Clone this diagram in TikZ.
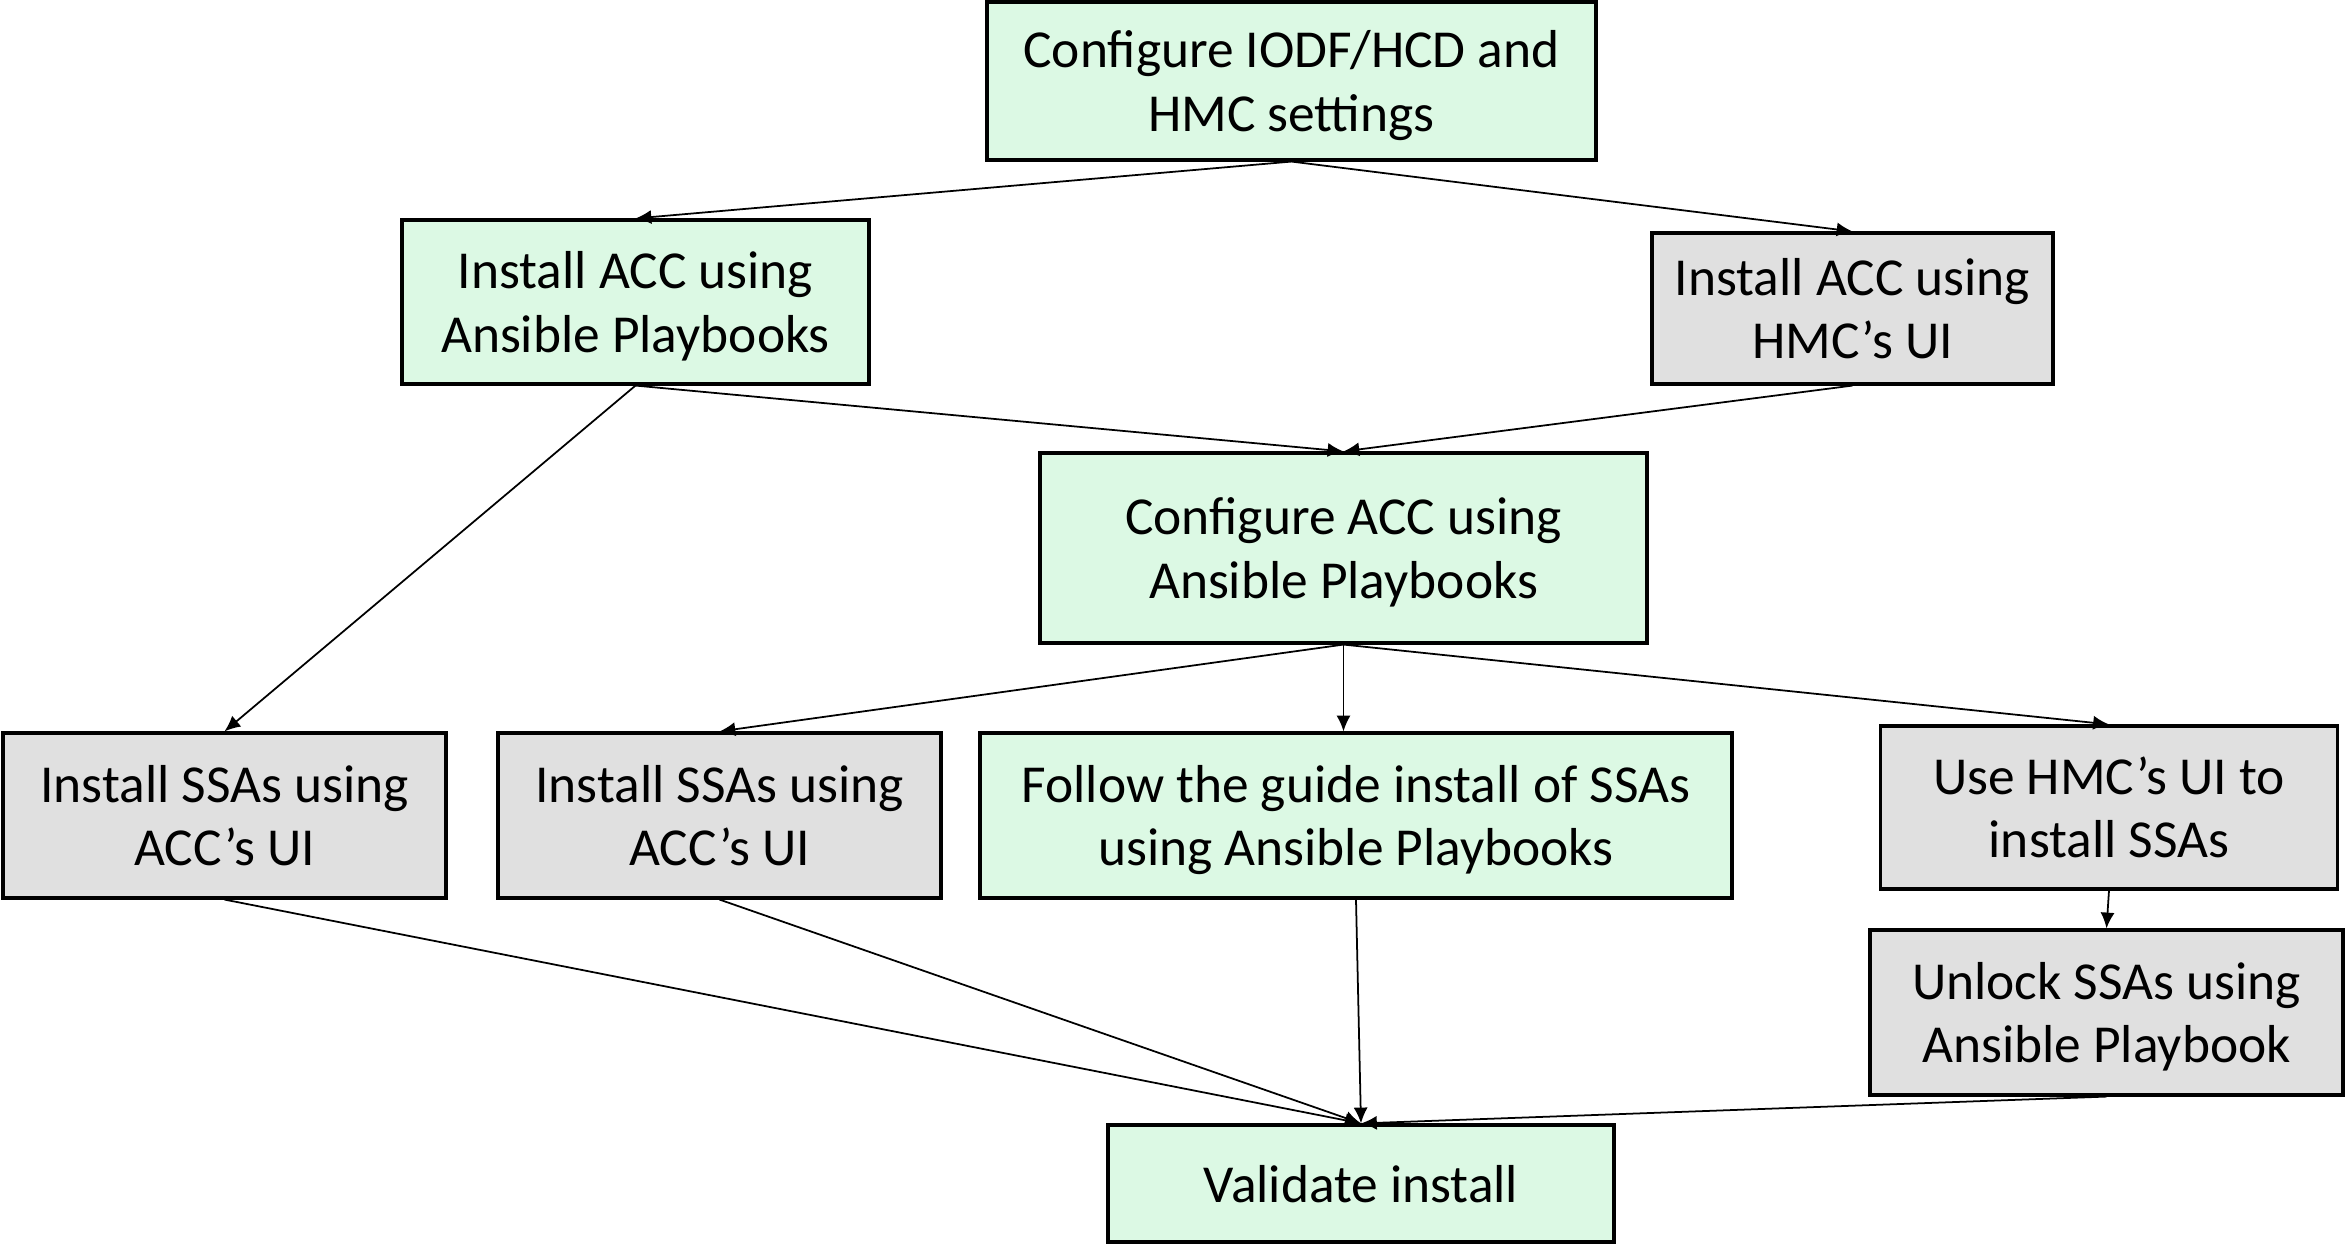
\documentclass[tikz,border=0pt]{standalone}
\usepackage{fontspec}
\setmainfont{Carlito}
\usetikzlibrary{arrows.meta}
\usepackage{xcolor}
\definecolor{boxgreen}{RGB}{220,249,228}
\definecolor{boxgray}{RGB}{224,224,224}

\begin{document}
\begin{tikzpicture}[>={Latex[length=4.5pt,width=4pt]},
    greenbox/.style={draw, line width=0.9pt, fill=boxgreen, align=center, inner sep=0pt,
        text depth=0pt, font=\fontsize{15.2}{18}\selectfont},
    graybox/.style={greenbox, fill=boxgray},
    flow/.style={->, line width=0.5pt}]

    \useasboundingbox (0,0) rectangle (23.46,-12.45);

    %boxes, top row
    \draw (12.915,-0.81) node[greenbox, minimum width=6.09cm, minimum height=1.58cm] (iodf) {Configure IODF/HCD and\\HMC settings};

    %install ACC
    \draw (6.355,-3.02) node[greenbox, minimum width=4.67cm, minimum height=1.64cm] (ansacc) {Install ACC using\\Ansible Playbooks};
    \draw (18.525,-3.085) node[graybox, minimum width=4.01cm, minimum height=1.51cm] (hmcacc) {Install ACC using\\HMC’s UI};

    %configure ACC
    \draw (13.435,-5.48) node[greenbox, minimum width=6.07cm, minimum height=1.90cm] (confacc) {Configure ACC using\\Ansible Playbooks};

    %install SSAs
    \draw (2.245,-8.155) node[graybox, minimum width=4.43cm, minimum height=1.65cm] (ssaone) {Install SSAs using\\ACC’s UI};
    \draw (7.195,-8.155) node[graybox, minimum width=4.43cm, minimum height=1.65cm] (ssatwo) {Install SSAs using\\ACC’s UI};
    \draw (13.56,-8.155) node[greenbox, minimum width=7.52cm, minimum height=1.65cm] (guide) {Follow the guide install of SSAs\\using Ansible Playbooks};
    \draw (21.09,-8.075) node[graybox, minimum width=4.57cm, minimum height=1.63cm] (hmcssa) {Use HMC’s UI to\\install SSAs};
    \draw (21.065,-10.125) node[graybox, minimum width=4.73cm, minimum height=1.65cm] (unlock) {Unlock SSAs using\\Ansible Playbook};

    %validate
    \draw (13.61,-11.835) node[greenbox, minimum width=5.06cm, minimum height=1.17cm] (valid) {Validate install};

    %arrows
    \draw [flow] (iodf.south) -- (ansacc.north);
    \draw [flow] (iodf.south) -- (hmcacc.north);

    \draw [flow] (ansacc.south) -- (confacc.north);
    \draw [flow] (hmcacc.south) -- (confacc.north);
    \draw [flow] (ansacc.south) -- (ssaone.north);

    \draw [flow] (confacc.south) -- (ssatwo.north);
    \draw [flow] (confacc.south) -- (confacc.south |- guide.north);
    \draw [flow] (confacc.south) -- (hmcssa.north);
    \draw [flow] (hmcssa.south) -- (unlock.north);

    \foreach \src in {ssaone,ssatwo,guide,unlock}
        \draw [flow] (\src.south) -- (valid.north);

\end{tikzpicture}
\end{document}
